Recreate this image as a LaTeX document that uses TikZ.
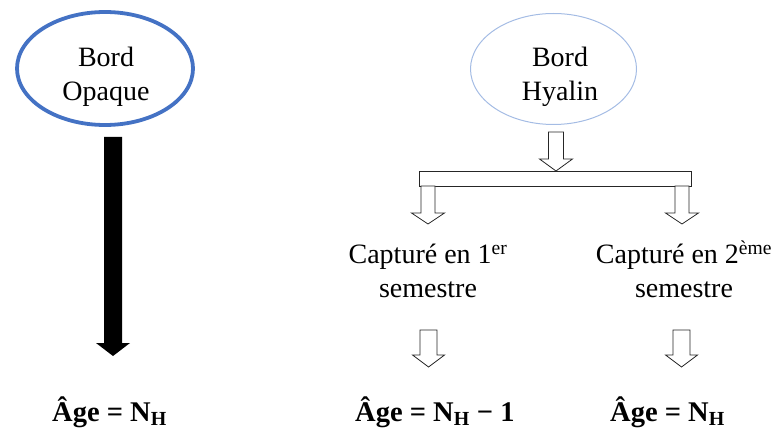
\documentclass[tikz,border=0pt]{standalone}
\usepackage{fontspec}
\setmainfont{Liberation Serif}
\usetikzlibrary{shapes.geometric}
\definecolor{opblue}{HTML}{4472C4}
\definecolor{hyblue}{HTML}{A4BCE4}
\tikzset{
  txt/.style={font=\fontsize{28}{34}\selectfont, align=center, inner sep=0pt},
  agetxt/.style={font=\fontsize{28.5}{34}\selectfont\bfseries, inner sep=0pt, anchor=base west},
  hollow/.style={draw=black!85, line width=0.8pt, fill=white, line join=miter},
}
% hollow down arrow: x centre, top y, tip y, half shaft, half head, head length
\newcommand\hdarrow[6]{%
  \draw[hollow] (#1-#4,#2) -- (#1+#4,#2) -- (#1+#4,#3-#6) -- (#1+#5,#3-#6)
    -- (#1,#3) -- (#1-#5,#3-#6) -- (#1-#4,#3-#6) -- cycle;}
\begin{document}
\begin{tikzpicture}[x=1pt,y=-1pt]
\useasboundingbox (0,0) rectangle (779,430);
% left side
\node[ellipse, draw=opblue, line width=3.8pt, minimum width=176pt, minimum height=113pt, inner sep=0pt] (op) at (105,68.5) {};
\node[txt, anchor=base] (opt) at (106,101) {Bord\\Opaque};
\coordinate (bktop) at (113,137);
\coordinate (bktip) at (113,356);
\fill[black] (bktop) ++(-9,0) -- ++(18,0) -- (122,343) -- (130,343) -- (bktip) -- (96,343) -- (104,343) -- cycle;
\node[agetxt] (age1) at (52,421) {Âge = N\textsubscript{H}};
% right side
\node[ellipse, draw=hyblue, line width=1pt, minimum width=166pt, minimum height=111pt, inner sep=0pt] (hy) at (553.5,69) {};
\node[txt, anchor=base] (hyt) at (560,101) {Bord\\Hyalin};
\hdarrow{556}{132}{171}{7.5}{16.5}{12}
\node[draw=black!85, line width=0.8pt, minimum width=272pt, minimum height=15pt, inner sep=0pt] (bar) at (555,178.5) {};
\hdarrow{428}{186}{224}{7}{16.5}{11}
\hdarrow{682}{186}{224}{7}{16.5}{11}
\node[txt, anchor=base] (c1) at (428,298) {Capturé en 1\textsuperscript{er}\\semestre};
\node[txt, anchor=base] (c2) at (684,298) {Capturé en 2\textsuperscript{ème}\\semestre};
\hdarrow{428.5}{330}{367}{8.5}{16}{12}
\hdarrow{681.5}{330}{367}{8.5}{16}{12}
\node[agetxt] (age2) at (355,421) {Âge = N\textsubscript{H} − 1};
\node[agetxt] (age3) at (610,421) {Âge = N\textsubscript{H}};
\end{tikzpicture}
\end{document}
